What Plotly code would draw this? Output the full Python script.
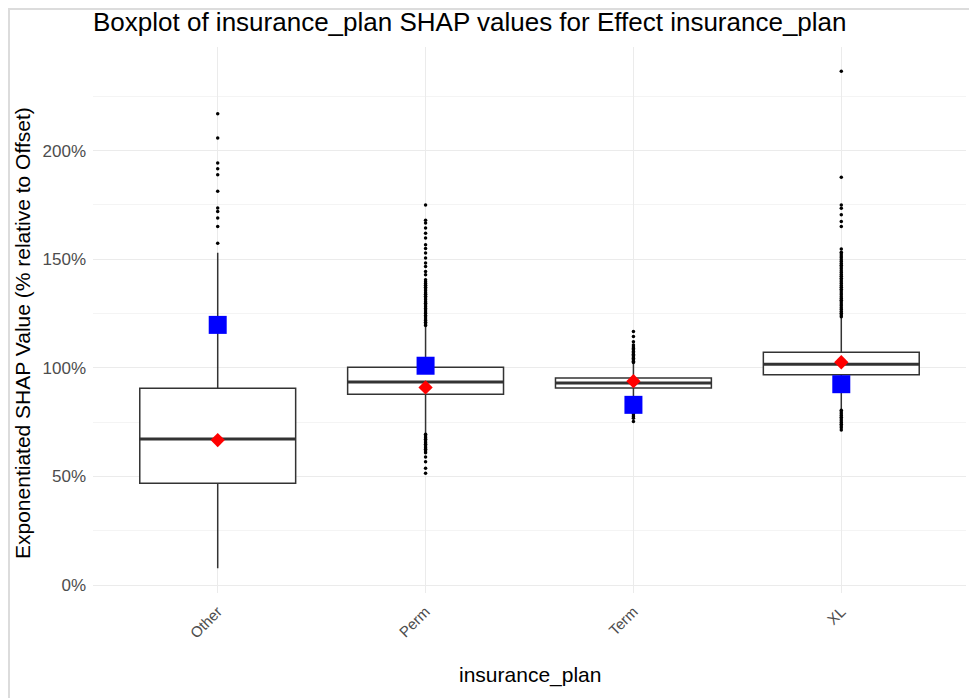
import plotly.graph_objects as go

# categories and box statistics (percent of offset)
plans = ["Other", "Perm", "Term", "XL"]
q1 = [46.9, 87.9, 90.8, 96.8]
median = [67.3, 93.5, 93.0, 101.7]
q3 = [90.6, 100.3, 95.4, 107.2]
lower_whisker = [7.8, 70.0, 84.0, 81.0]
upper_whisker = [153.0, 119.0, 102.0, 123.0]

# red diamond (mean) and blue square per plan
mean_shap = [66.8, 91.0, 93.9, 102.6]
blue_value = [119.8, 101.0, 83.0, 92.5]

# outliers per plan
out_other = [217.0, 205.8, 194.3, 191.7, 188.9, 181.3, 173.6, 172.0, 169.0, 165.1, 157.4]
out_perm = [175.0, 168.0, 166.7, 164.4, 162.0, 159.8, 156.7, 155.0, 152.9, 150.6, 148.3,
            146.7, 144.4, 142.9, 140.6, 139.7, 138.8, 138.0, 137.1, 136.3, 135.5, 134.6,
            133.9, 133.0, 132.2, 131.4, 130.5, 129.8, 129.0, 128.1, 127.3, 126.6, 125.7,
            125.0, 124.1, 123.4, 122.5, 121.8, 121.0, 120.2, 119.5,
            69.5, 68.7, 67.9, 67.2, 66.4, 65.6, 64.9, 64.1, 63.3, 62.6, 61.8, 61.0,
            59.0, 56.8, 53.8, 51.5]
out_term = [116.7, 114.4, 112.0, 110.6, 109.6, 108.9, 108.3, 107.6, 107.0, 106.3, 105.7,
            105.0, 104.4, 103.8, 103.1, 102.5,
            83.5, 82.8, 82.0, 81.3, 80.5, 79.8, 79.0, 78.3, 77.5, 76.8, 75.3]
out_xl = [236.5, 187.8, 175.0, 173.5, 170.5, 167.4, 165.1, 154.7, 153.2, 152.4, 151.5,
          150.7, 149.8, 149.0, 148.1, 147.3, 146.4, 145.6, 144.7, 143.9, 143.0, 142.2,
          141.3, 140.5, 139.6, 138.8, 137.9, 137.1, 136.2, 135.4, 134.5, 133.7, 132.8,
          132.0, 131.1, 130.3, 129.4, 128.6, 127.7, 126.9, 126.0, 125.2, 124.3, 123.5,
          80.5, 79.7, 78.9, 78.1, 77.3, 76.5, 75.7, 74.9, 74.1, 73.3, 72.5, 71.4]
outliers = [out_other, out_perm, out_term, out_xl]

y_ticks = [0, 50, 100, 150, 200]
y_labels = ["0%", "50%", "100%", "150%", "200%"]

# page body adds an 8px offset, margins account for it
W, H = 977, 698
L, R, T, B = 85, 19, 39, 113
pos = list(range(1, len(plans) + 1))
box_w = 0.75
font = "Liberation Sans, Arial, sans-serif"

fig = go.Figure()

for i, p in enumerate(plans):
    fig.add_trace(go.Box(
        x=[pos[i]], q1=[q1[i]], median=[median[i]], q3=[q3[i]],
        lowerfence=[lower_whisker[i]], upperfence=[upper_whisker[i]],
        width=box_w, whiskerwidth=0, fillcolor="white",
        line=dict(color="#333333", width=1.5), boxpoints=False,
        name=p, showlegend=False, hoverinfo="skip"))

# thick median bars like ggplot
mx, my = [], []
for i in range(len(plans)):
    mx += [pos[i] - box_w / 2, pos[i] + box_w / 2, None]
    my += [median[i], median[i], None]
fig.add_trace(go.Scatter(x=mx, y=my, mode="lines", line=dict(color="#333333", width=3),
                         showlegend=False, hoverinfo="skip"))

# outlier dots
ox, oy = [], []
for i, vals in enumerate(outliers):
    ox += [pos[i]] * len(vals)
    oy += vals
fig.add_trace(go.Scatter(x=ox, y=oy, mode="markers",
                         marker=dict(color="black", size=3.5),
                         showlegend=False, hoverinfo="skip"))

fig.add_trace(go.Scatter(x=pos, y=blue_value, mode="markers",
                         marker=dict(symbol="square", color="#0000FF", size=18),
                         showlegend=False))
fig.add_trace(go.Scatter(x=pos, y=mean_shap, mode="markers",
                         marker=dict(symbol="diamond", color="#FF0000", size=11),
                         showlegend=False))

pw = W - L - R
ph = H - T - B
fig.add_shape(type="rect", xref="paper", yref="paper",
              x0=-(L - 1) / pw, x1=1 + (R - 1) / pw,
              y0=-(B - 1) / ph, y1=1 + (T - 1) / ph,
              line=dict(color="#dcdcdc", width=2), layer="below")

# axis titles placed like the ggplot output
fig.add_annotation(text="insurance_plan", xref="paper", yref="paper",
                   x=0.5, y=-(667 - (H - B)) / ph, xanchor="center", yanchor="middle",
                   showarrow=False, font=dict(size=21, color="black"))
fig.add_annotation(text="Exponentiated SHAP Value (% relative to Offset)",
                   xref="paper", yref="paper", textangle=-90,
                   x=-(L - 14) / pw, y=(H - B - 325) / ph,
                   xanchor="center", yanchor="middle",
                   showarrow=False, font=dict(size=21, color="black"))

fig.update_layout(
    width=W, height=H,
    margin=dict(l=L, r=R, t=T, b=B),
    paper_bgcolor="white", plot_bgcolor="white",
    font=dict(family=font, color="black"),
    title=dict(text="Boxplot of insurance_plan SHAP values for Effect insurance_plan",
               x=0, xref="paper", xanchor="left",
               y=1 - 14 / H, yref="container", yanchor="middle",
               font=dict(size=26, color="black")),
    xaxis=dict(range=[0.4, 4.6], tickvals=pos, ticktext=plans, tickangle=-45,
               tickfont=dict(size=15, color="#4d4d4d"), automargin=False,
               ticklabelstandoff=6,
               showgrid=True, gridcolor="#ebebeb", gridwidth=1, zeroline=False,
               showline=False, ticks=""),
    yaxis=dict(range=[-3.6, 247.7], tickvals=y_ticks, ticktext=y_labels,
               tickfont=dict(size=17, color="#4d4d4d"), automargin=False,
               showgrid=True, gridcolor="#ebebeb", gridwidth=1, zeroline=False,
               showline=False, ticks="", ticklabelstandoff=6,
               minor=dict(tickvals=[25, 75, 125, 175, 225], showgrid=True,
                          gridcolor="#f4f4f4", gridwidth=1)),
)

fig.write_html("out.html")
